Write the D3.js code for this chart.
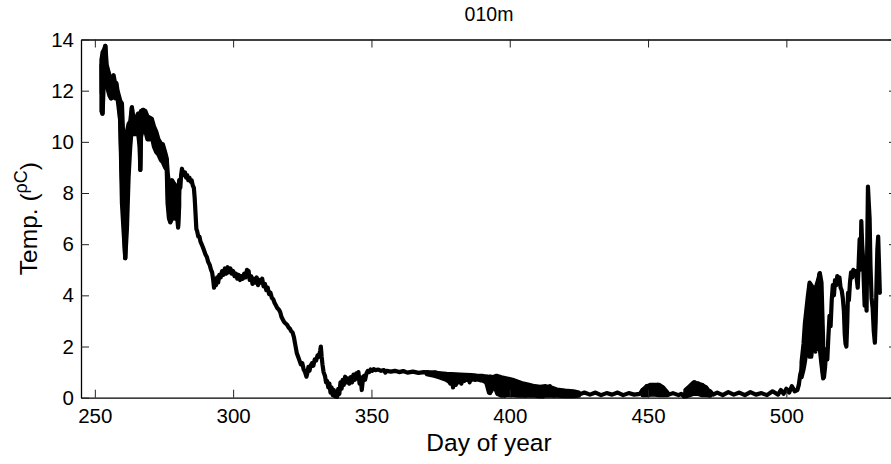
<!DOCTYPE html>
<html>
<head>
<meta charset="utf-8">
<script src="https://cdn.jsdelivr.net/npm/d3@7"></script>
<style>
  html, body { margin: 0; padding: 0; background: #fff; }
  svg { display: block; font-family: "Liberation Sans", Arial, Helvetica, sans-serif; }
</style>
</head>
<body>
<svg id="chart" width="891" height="464"></svg>
<script>
// Temperature record at 10 m depth
const titleText = "010m";
const xLabel = "Day of year";
const xDomain = [245, 540];
const yDomain = [0, 14];
const xTicks = [250, 300, 350, 400, 450, 500];
const yTicks = [0, 2, 4, 6, 8, 10, 12, 14];

const dayOfYear = [
  252.4, 252.5, 252.6, 252.7, 252.8, 252.9, 253.0, 253.2, 253.4, 253.6, 253.8, 254.0, 254.2, 254.4, 254.6, 254.8,
  255.0, 255.2, 255.5, 255.7, 256.0, 256.2, 256.5, 256.8, 257.0, 257.3, 257.6, 257.9, 258.3, 258.7, 259.0, 259.3,
  259.6, 259.9, 260.2, 260.4, 260.6, 260.8, 261.0, 261.2, 261.4, 261.6, 261.8, 262.1, 262.5, 262.8, 263.1, 263.4,
  263.7, 264.0, 264.3, 264.6, 264.9, 265.2, 265.5, 265.8, 266.1, 266.3, 266.45, 266.6, 266.8, 267.1, 267.4, 267.7,
  268.0, 268.3, 268.6, 268.9, 269.2, 269.5, 269.8, 270.1, 270.4, 270.8, 271.1, 271.4, 271.8, 272.1, 272.5, 272.9,
  273.3, 273.7, 274.1, 274.5, 274.9, 275.3, 275.7, 276.0, 276.3, 276.5, 276.7, 276.9, 277.1, 277.3, 277.5, 277.7,
  277.9, 278.1, 278.3, 278.5, 278.7, 278.9, 279.1, 279.3, 279.5, 279.7, 279.9, 280.1, 280.3, 280.6, 280.9, 281.2,
  281.5, 281.8, 282.2, 282.6, 283.0, 283.4, 283.8, 284.2, 284.6, 285.0, 285.4, 285.8, 286.1, 286.4, 286.7, 287.0,
  287.4, 287.8, 288.2, 288.6, 289.0, 289.5, 290.0, 290.5, 291.0, 291.5, 292.0, 292.4, 292.8, 293.1, 293.4, 293.8,
  294.2, 294.6, 295.0, 295.5, 296.0, 296.5, 297.0, 297.5, 298.0, 298.5, 299.0, 299.5, 300.0, 300.5, 301.0, 301.5,
  302.0, 302.5, 303.0, 303.5, 304.0, 304.5, 305.0, 305.3, 305.6, 306.0, 306.5, 307.0, 307.5, 308.0, 308.5, 309.0,
  309.5, 310.0, 310.5, 311.0, 311.5, 312.0, 312.5, 313.0, 313.5, 314.0, 314.5, 315.0, 315.5, 316.0, 316.5, 317.0,
  317.5, 318.0, 318.5, 319.0, 319.5, 320.0, 320.5, 321.0, 321.5, 322.0, 322.5, 323.0, 323.5, 324.0, 324.5, 325.0,
  325.5, 326.0, 326.5, 326.8, 327.2, 327.6, 328.0, 328.5, 329.0, 329.5, 330.0, 330.5, 331.0, 331.5, 331.7, 332.0,
  332.3, 332.7, 333.2, 333.6, 334.0, 334.4, 334.8, 335.2, 335.6, 336.0, 336.4, 336.8, 337.2, 337.6, 338.0, 338.4,
  338.8, 339.2, 339.6, 340.0, 340.5, 341.0, 341.5, 342.0, 342.5, 343.0, 343.5, 344.0, 344.5, 345.0, 345.3, 345.7,
  346.1, 346.5, 346.9, 347.3, 347.7, 348.2, 348.7, 349.2, 349.7, 350.3, 350.8, 351.5, 352.5, 353.5, 354.5, 355.0,
  355.5, 357.0, 358.5, 360.0, 361.5, 363.0, 365.0, 367.0, 369.0, 371.0, 373.0, 375.0, 376.0, 377.0, 377.5, 378.0,
  378.5, 379.0, 379.5, 380.0, 380.5, 381.0, 381.5, 382.0, 382.5, 383.0, 383.5, 384.0, 384.5, 385.0, 385.5, 386.0,
  386.5, 387.0, 387.5, 388.0, 388.5, 389.0, 389.5, 390.0, 390.5, 391.0, 391.5, 392.0, 392.5, 392.9, 393.3, 393.7,
  394.2, 394.6, 395.0, 395.4, 395.8, 396.2, 396.6, 397.0, 397.4, 397.8, 398.2, 398.6, 399.0, 399.4, 399.8, 400.2,
  400.6, 401.0, 401.4, 401.8, 402.2, 402.6, 403.0, 403.4, 403.8, 404.2, 404.6, 405.0, 405.4, 405.8, 406.2, 406.6,
  407.0, 407.5, 408.0, 408.5, 409.0, 409.5, 410.0, 410.5, 411.0, 411.5, 412.0, 412.5, 413.0, 413.5, 414.0, 414.5,
  415.0, 415.5, 416.0, 416.5, 417.0, 418.0, 419.0, 420.0, 421.0, 422.0, 423.0, 424.0, 425.0, 427.0, 429.0, 431.0,
  433.0, 435.0, 437.0, 439.0, 441.0, 443.0, 445.0, 447.0, 448.0, 448.8, 449.5, 450.2, 450.8, 451.5, 452.2, 452.8,
  453.5, 454.2, 455.0, 455.7, 456.5, 457.5, 459.0, 461.0, 462.0, 463.0, 464.0, 464.8, 465.5, 466.2, 466.8, 467.5,
  468.2, 468.8, 469.5, 470.2, 471.0, 471.7, 472.5, 473.5, 475.0, 477.0, 479.0, 481.0, 483.0, 485.0, 487.0, 489.0,
  491.0, 493.0, 495.0, 497.0, 498.0, 499.0, 500.0, 501.0, 502.0, 503.0, 504.0, 504.5, 505.0, 505.5, 505.8, 506.2,
  506.6, 507.0, 507.4, 507.8, 508.1, 508.4, 508.7, 509.0, 509.3, 509.6, 509.9, 510.2, 510.5, 510.8, 511.1, 511.4,
  511.7, 512.0, 512.3, 512.6, 512.9, 513.2, 513.6, 514.0, 514.4, 514.8, 515.2, 515.6, 516.0, 516.4, 516.8, 517.2,
  517.6, 518.0, 518.4, 518.8, 519.2, 519.6, 520.0, 520.4, 520.8, 521.1, 521.4, 521.7, 522.0, 522.3, 522.6, 523.0,
  523.4, 523.8, 524.2, 524.6, 525.0, 525.4, 525.8, 526.2, 526.5, 526.8, 527.1, 527.4, 527.7, 528.0, 528.3, 528.6,
  529.0, 529.3, 529.5, 529.8, 530.1, 530.4, 530.8, 531.2, 531.6, 532.0, 532.3, 532.6, 532.9, 533.2, 533.5, 533.8
];

const tempC = [
  13.0, 11.9, 13.3, 11.1, 11.2, 12.8, 13.4, 12.6, 13.5, 13.2, 13.75, 13.1, 12.5, 12.9, 12.3, 12.7,
  12.2, 12.6, 11.9, 12.3, 11.7, 12.0, 12.4, 11.8, 12.25, 11.75, 12.3, 12.1, 11.8, 11.6, 11.3, 10.3,
  9.2, 8.2, 7.5, 8.0, 6.8, 6.0, 5.45, 6.8, 8.2, 8.9, 9.4, 9.8, 10.4, 10.2, 10.8, 11.35,
  10.7, 10.5, 10.9, 10.4, 10.8, 10.5, 11.0, 10.6, 11.1, 9.8, 8.9, 10.2, 11.2, 10.8, 11.25, 11.0,
  11.2, 10.7, 11.0, 10.4, 10.7, 10.3, 10.9, 10.5, 10.9, 10.7, 10.2, 10.5, 10.0, 10.3, 9.7, 10.0,
  9.6, 9.9, 9.5, 9.85, 9.4, 9.6, 9.2, 9.3, 8.4, 7.6, 8.3, 7.1, 8.0, 6.9, 8.3, 7.2,
  8.4, 7.0, 8.1, 7.3, 8.3, 7.4, 8.2, 7.0, 8.0, 7.5, 7.8, 6.7, 7.6, 8.4, 8.2, 8.7,
  8.95, 8.8, 8.7, 8.8, 8.6, 8.7, 8.5, 8.6, 8.45, 8.5, 8.3, 8.2, 7.8, 7.2, 6.6, 6.5,
  6.3, 6.3, 6.1, 6.0, 5.9, 5.75, 5.6, 5.5, 5.3, 5.2, 5.0, 4.9, 4.6, 4.3, 4.5, 4.4,
  4.7, 4.5, 4.8, 4.7, 4.95, 4.8, 5.05, 4.85, 5.1, 4.9, 5.05, 4.85, 4.95, 4.75, 4.85, 4.65,
  4.8, 4.6, 4.75, 4.65, 4.85, 4.7, 5.0, 4.75, 4.95, 4.6, 4.75, 4.45, 4.65, 4.5, 4.7, 4.4,
  4.6, 4.5, 4.65, 4.35, 4.45, 4.2, 4.3, 4.05, 4.1, 3.9, 3.85, 3.7, 3.6, 3.5, 3.45, 3.35,
  3.15, 3.05, 2.95, 2.9, 2.85, 2.75, 2.7, 2.6, 2.55, 2.35, 2.05, 1.75, 1.6, 1.45, 1.3, 1.35,
  1.1, 1.0, 0.82, 0.95, 1.2, 1.05, 1.25, 1.35, 1.25, 1.5, 1.45, 1.65, 1.6, 1.85, 2.0, 1.6,
  1.3, 1.0, 0.85, 0.6, 0.65, 0.4, 0.55, 0.2, 0.4, 0.1, 0.3, 0.05, 0.2, 0.03, 0.35, 0.15,
  0.6, 0.35, 0.7, 0.5, 0.82, 0.6, 0.75, 0.55, 0.8, 0.6, 0.9, 0.7, 0.95, 0.75, 1.0, 0.55,
  0.8, 0.3, 0.7, 0.85, 0.7, 0.95, 1.05, 1.0, 1.1, 1.05, 1.12, 1.08, 1.1, 1.05, 1.08, 0.98,
  1.05, 1.02, 1.05, 1.0, 1.04, 0.98, 1.02, 0.97, 1.0, 0.96, 0.99, 0.93, 0.85, 0.93, 0.7, 0.9,
  0.55, 0.88, 0.4, 0.85, 0.5, 0.88, 0.6, 0.85, 0.55, 0.87, 0.65, 0.84, 0.7, 0.85, 0.6, 0.83,
  0.72, 0.85, 0.7, 0.82, 0.72, 0.8, 0.68, 0.8, 0.7, 0.78, 0.6, 0.75, 0.3, 0.18, 0.5, 0.78,
  0.4, 0.75, 0.5, 0.82, 0.15, 0.75, 0.1, 0.72, 0.2, 0.7, 0.08, 0.68, 0.15, 0.62, 0.25, 0.7,
  0.1, 0.65, 0.3, 0.6, 0.12, 0.55, 0.2, 0.55, 0.1, 0.5, 0.25, 0.5, 0.08, 0.5, 0.1, 0.45,
  0.2, 0.42, 0.1, 0.4, 0.15, 0.38, 0.1, 0.35, 0.2, 0.36, 0.05, 0.35, 0.15, 0.4, 0.1, 0.45,
  0.15, 0.3, 0.08, 0.3, 0.12, 0.28, 0.1, 0.25, 0.08, 0.22, 0.1, 0.2, 0.12, 0.2, 0.12, 0.2,
  0.1, 0.18, 0.12, 0.2, 0.1, 0.18, 0.12, 0.15, 0.3, 0.15, 0.45, 0.2, 0.5, 0.25, 0.45, 0.2,
  0.5, 0.3, 0.42, 0.2, 0.25, 0.12, 0.18, 0.1, 0.15, 0.05, 0.3, 0.15, 0.45, 0.25, 0.6, 0.3,
  0.55, 0.35, 0.5, 0.2, 0.4, 0.15, 0.25, 0.12, 0.2, 0.1, 0.22, 0.12, 0.2, 0.1, 0.22, 0.12,
  0.18, 0.1, 0.25, 0.12, 0.3, 0.15, 0.35, 0.2, 0.45, 0.25, 0.3, 0.5, 0.9, 1.1, 1.4, 1.3,
  2.0, 2.3, 2.9, 2.7, 3.8, 4.4, 3.5, 2.6, 3.9, 2.5, 4.2, 3.1, 1.8, 3.5, 2.6, 4.3,
  4.6, 4.85, 4.0, 2.2, 1.5, 1.0, 0.8, 1.2, 1.9, 1.5, 2.4, 3.2, 2.8, 3.8, 4.4, 4.0,
  4.6, 4.4, 4.75, 4.5, 4.7, 4.3, 4.2, 3.9, 3.4, 2.5, 2.1, 2.0, 2.9, 4.1, 3.8, 4.5,
  4.9, 4.7, 5.0, 4.8, 4.95, 4.7, 4.3, 5.4, 6.2, 5.0, 6.9, 6.0, 5.5, 4.5, 3.6, 4.4,
  3.4, 6.5, 8.25, 7.6, 7.0, 5.2, 3.9, 3.5, 2.6, 2.15, 3.0, 4.5, 5.8, 6.3, 5.2, 4.1
];

// Upper and lower reach of the fast oscillations where the trace smears into a band
// (NaN separates the bands)
const bandDay = [
  252.4, 252.8, 253.3, 253.8, 254.3, 254.8, 255.3, 255.8, 256.3, 256.8, 257.3, 257.8, 258.2,
  259.2, 259.8, 260.4, 261.0, 261.6, 262.2, 262.8, 263.4, 264.0, 264.8, 265.6, 266.2, 266.45, 266.7,
  267.5, 268.3, 269.0, 269.8, 270.6, 271.4, 272.2, 273.0, 273.8, 274.6, 275.4, 276.0,
  276.3, 276.8, 277.3, 277.9, 278.5, 279.1, 279.7, 280.1, 280.5, NaN,
  370.0, 373.0, 375.0, 377.0, 379.0, 380.5, 382.0, 384.0, 386.0, 388.0, 390.0, 391.5, 392.5, 393.3,
  394.0, 395.0, 395.5, 397.0, 399.0, 401.0, 403.0, 405.0, 407.0, 409.0, 411.0, 413.0, 415.0, 417.0,
  420.0, 423.0, 425.0, NaN,
  448.0, 449.5, 451.0, 452.5, 454.0, 455.5, 457.0, NaN,
  463.5, 465.0, 466.5, 468.0, 469.5, 471.0, 472.5, NaN,
  505.5, 506.2, 506.7, 507.2, 507.8, 508.4, 509.0, 509.6, 510.2, 510.9, 511.5, 512.1, 512.7, 513.3
];
const bandHigh = [
  13.2, 13.5, 13.6, 13.75, 13.0, 12.8, 12.6, 12.4, 12.5, 12.6, 12.3, 12.3, 12.0,
  11.6, 11.5, 9.8, 8.9, 10.4, 10.7, 10.8, 11.35, 10.9, 10.9, 11.1, 11.1, 11.1, 11.2,
  11.25, 11.2, 11.0, 10.95, 10.9, 10.6, 10.4, 10.1, 9.95, 9.9, 9.6, 9.35,
  8.8, 8.4, 8.4, 8.5, 8.4, 8.3, 8.1, 7.9, 8.5, NaN,
  1.0, 0.97, 0.95, 0.93, 0.92, 0.91, 0.9, 0.89, 0.88, 0.86, 0.85, 0.83, 0.82, 0.82,
  0.8, 0.85, 0.85, 0.8, 0.75, 0.7, 0.62, 0.55, 0.5, 0.45, 0.42, 0.45, 0.4, 0.32,
  0.28, 0.25, 0.2, NaN,
  0.3, 0.45, 0.5, 0.5, 0.5, 0.4, 0.2, NaN,
  0.3, 0.45, 0.6, 0.55, 0.5, 0.4, 0.2, NaN,
  1.4, 2.1, 2.9, 3.4, 4.0, 4.5, 4.4, 4.3, 4.2, 4.4, 4.6, 4.87, 4.5, 2.2
];
const bandLow = [
  11.2, 11.1, 12.5, 12.8, 12.3, 12.0, 11.8, 11.7, 11.8, 11.8, 11.7, 11.9, 11.7,
  10.8, 7.6, 6.5, 5.45, 6.6, 8.6, 9.8, 10.6, 10.3, 10.3, 10.4, 9.8, 8.9, 10.2,
  10.6, 10.4, 10.1, 10.1, 10.2, 9.8, 9.6, 9.5, 9.3, 9.2, 9.0, 8.9,
  7.6, 7.0, 6.85, 7.0, 7.1, 7.0, 7.2, 6.65, 7.5, NaN,
  0.92, 0.85, 0.78, 0.7, 0.55, 0.6, 0.65, 0.7, 0.72, 0.72, 0.68, 0.6, 0.2, 0.25,
  0.45, 0.3, 0.15, 0.08, 0.1, 0.1, 0.08, 0.08, 0.08, 0.08, 0.05, 0.08, 0.08, 0.08,
  0.06, 0.06, 0.08, NaN,
  0.1, 0.1, 0.12, 0.12, 0.1, 0.1, 0.1, NaN,
  0.05, 0.1, 0.15, 0.15, 0.1, 0.1, 0.08, NaN,
  0.8, 1.1, 1.4, 1.8, 2.2, 1.6, 1.6, 2.2, 2.3, 1.9, 2.0, 1.9, 1.3, 0.75
];

const series = dayOfYear.map((d, i) => ({ day: d, temp: tempC[i] }));
const bands = bandDay.map((d, i) => ({ day: d, high: bandHigh[i], low: bandLow[i] }));

const svg = d3.select("#chart");
const plot = { left: 81, right: 897, top: 39.5, bottom: 397.7 };
const traceWidth = 4.2;

const x = d3.scaleLinear().domain(xDomain).range([plot.left, plot.right]);
const y = d3.scaleLinear().domain(yDomain).range([plot.bottom, plot.top]);

// smeared bands of rapid fluctuation
svg.append("path")
  .datum(bands)
  .attr("fill", "#000")
  .attr("stroke", "#000")
  .attr("stroke-width", traceWidth)
  .attr("stroke-linejoin", "round")
  .attr("d", d3.area()
    .defined(d => !isNaN(d.day))
    .x(d => x(d.day))
    .y0(d => y(d.low))
    .y1(d => y(d.high)));

// temperature trace
svg.append("path")
  .datum(series)
  .attr("fill", "none")
  .attr("stroke", "#000")
  .attr("stroke-width", traceWidth)
  .attr("stroke-linejoin", "round")
  .attr("stroke-linecap", "round")
  .attr("d", d3.line().x(d => x(d.day)).y(d => y(d.temp)));

const tickLen = 8;
const styleAxis = g => {
  g.select(".domain").attr("stroke", "#000").attr("stroke-width", 1.3);
  g.selectAll(".tick line").attr("stroke", "#222").attr("stroke-width", 1);
  g.selectAll(".tick text")
    .attr("fill", "#000")
    .style("font-family", "'Liberation Sans', Arial, sans-serif")
    .style("font-size", "20.5px");
};

// bottom axis with labels, ticks pointing into the plot
svg.append("g")
  .attr("transform", `translate(0,${plot.bottom})`)
  .call(d3.axisBottom(x).tickValues(xTicks).tickSizeInner(-tickLen).tickSizeOuter(0).tickPadding(tickLen + 3))
  .call(styleAxis);

// top axis, ticks only
svg.append("g")
  .attr("transform", `translate(0,${plot.top})`)
  .call(d3.axisTop(x).tickValues(xTicks).tickSizeInner(-tickLen).tickSizeOuter(0).tickFormat(""))
  .call(styleAxis);

// left axis with labels
svg.append("g")
  .attr("transform", `translate(${plot.left},0)`)
  .call(d3.axisLeft(y).tickValues(yTicks).tickSizeInner(-tickLen).tickSizeOuter(0).tickPadding(7))
  .call(styleAxis);

// right axis, ticks only
svg.append("g")
  .attr("transform", `translate(${plot.right},0)`)
  .call(d3.axisRight(y).tickValues(yTicks).tickSizeInner(-tickLen).tickSizeOuter(0).tickFormat(""))
  .call(styleAxis);

svg.selectAll(".tick text").filter(function () { return this.textContent === ""; }).remove();

// title
svg.append("text")
  .attr("x", (plot.left + plot.right) / 2)
  .attr("y", 21)
  .attr("text-anchor", "middle")
  .style("font-size", "19.5px")
  .text(titleText);

// x axis label
svg.append("text")
  .attr("x", (plot.left + plot.right) / 2)
  .attr("y", 451)
  .attr("text-anchor", "middle")
  .style("font-size", "24.5px")
  .text(xLabel);

// y axis label with raised unit
const yl = svg.append("text")
  .attr("transform", `translate(37,${(plot.top + plot.bottom) / 2}) rotate(-90)`)
  .attr("text-anchor", "middle")
  .style("font-size", "24.5px");
yl.append("tspan").text("Temp. (");
yl.append("tspan").attr("dy", -10).style("font-size", "18px").text("ρC");
yl.append("tspan").attr("dy", 10).text(")");
</script>
</body>
</html>
